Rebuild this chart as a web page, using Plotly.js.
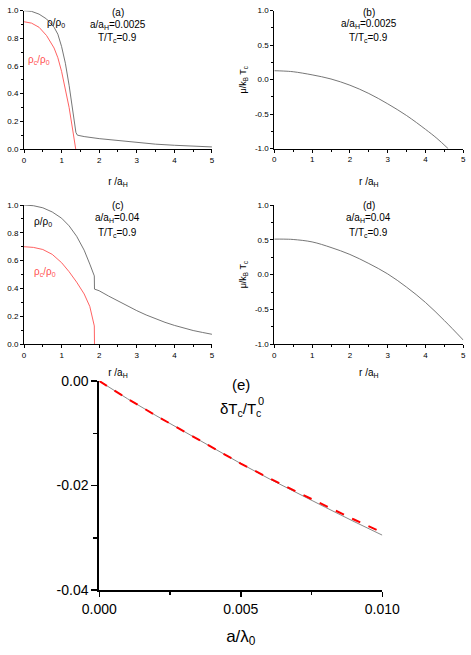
<!DOCTYPE html>
<html>
<head>
<meta charset="utf-8">
<script src="https://cdn.plot.ly/plotly-3.0.1.min.js"></script>
<style>
  html, body { margin: 0; padding: 0; background: white; }
  #grafic { width: 471px; height: 655px; }
</style>
</head>
<body>
<div id="grafic"></div>
<script>
// DADES LLEGIDES DEL GRAFIC

// (a) a/aH = 0.0025
var rA = [0, 0.2, 0.4, 0.6, 0.8, 0.9, 1.0, 1.1, 1.2, 1.3, 1.38, 1.42, 1.6, 2.0, 2.5, 3.0, 3.5, 4.0, 4.5, 5.0];
var rhoA = [1.0, 0.995, 0.975, 0.94, 0.88, 0.83, 0.74, 0.62, 0.46, 0.28, 0.12, 0.10, 0.09, 0.075, 0.06, 0.045, 0.035, 0.027, 0.02, 0.015];
var rcA = [0, 0.2, 0.4, 0.6, 0.8, 0.9, 1.0, 1.1, 1.2, 1.3, 1.37, 1.375];
var rhocA = [0.92, 0.91, 0.88, 0.82, 0.73, 0.66, 0.56, 0.44, 0.30, 0.13, 0.02, 0.0];

// (b)
var rB = [0, 0.25, 0.5, 1.0, 1.5, 2.0, 2.5, 3.0, 3.5, 4.0, 4.3, 4.6];
var muB = [0.13, 0.125, 0.115, 0.07, 0.01, -0.08, -0.20, -0.35, -0.52, -0.72, -0.85, -1.0];

// (c) a/aH = 0.04
var rC = [0, 0.25, 0.5, 0.75, 1.0, 1.2, 1.4, 1.6, 1.75, 1.87, 1.875, 2.0, 2.25, 2.5, 2.75, 3.0, 3.25, 3.5, 3.75, 4.0, 4.25, 4.5, 4.75, 5.0];
var rhoC = [1.0, 0.995, 0.98, 0.95, 0.905, 0.85, 0.775, 0.675, 0.575, 0.49, 0.395, 0.383, 0.345, 0.308, 0.273, 0.240, 0.209, 0.181, 0.156, 0.134, 0.114, 0.097, 0.083, 0.07];
var rcC = [0, 0.25, 0.5, 0.75, 1.0, 1.2, 1.4, 1.6, 1.75, 1.87, 1.875];
var rhocC = [0.70, 0.695, 0.68, 0.645, 0.585, 0.52, 0.445, 0.36, 0.27, 0.13, 0.0];

// (d)
var rD = [0, 0.25, 0.5, 1.0, 1.5, 2.0, 2.5, 3.0, 3.5, 4.0, 4.5, 5.0];
var muD = [0.51, 0.51, 0.505, 0.47, 0.39, 0.29, 0.16, 0.01, -0.18, -0.40, -0.66, -0.94];

// (e) deltaTc/Tc0 vs a/lambda0
var aLam = [0, 0.001, 0.002, 0.003, 0.004, 0.005, 0.006, 0.007, 0.008, 0.009, 0.010];
var dTcNum = [0, -0.0034, -0.0066, -0.0097, -0.0128, -0.0158, -0.0187, -0.0215, -0.0242, -0.0269, -0.0295];
var dTcApx = [0, -0.0034, -0.0066, -0.0097, -0.0128, -0.0158, -0.0186, -0.0213, -0.0239, -0.0265, -0.0290];

// ETIQUETES DELS EIXOS
var muTicks = [-1, -0.5, 0, 0.5, 1];
var muText = ["-1.0", "-0.5", "0.0", "0.5", "1.0"];
var eYTicks = [-0.04, -0.02, 0];
var eYText = ["-0.04", "-0.02", "0.00"];
var eXTicks = [0, 0.005, 0.010];
var eXText = ["0.000", "0.005", "0.010"];

var FONT = "Liberation Sans, Arial, sans-serif";
var GRIS = "#666666";
var VERMELL = "rgb(255,80,80)";

// eix petit (panells a-d)
function eixPetit(dom, rang, extra) {
    var eix = {
        domain: dom, range: rang, showgrid: false, zeroline: false,
        showline: true, linecolor: "black", linewidth: 1,
        ticks: "outside", ticklen: 3, tickwidth: 1, tickcolor: "black",
        tickfont: {family: FONT, size: 8, color: "black"},
        fixedrange: true
    };
    for (var k in extra) eix[k] = extra[k];
    return eix;
}

function titolR(st) {
    return {text: "r /a<sub>H</sub>", font: {family: FONT, size: 10, color: "black"}, standoff: st};
}
var titolMu = {text: "μ/k<sub>B</sub> T<sub>c</sub>", font: {family: FONT, size: 9, color: "black"}, standoff: 6};
var minorX = {ticks: "outside", ticklen: 2, dtick: 0.5, tick0: 0, tickcolor: "black"};
var minorRho = {ticks: "outside", ticklen: 2, dtick: 0.1, tick0: 0, tickcolor: "black"};
var minorMu = {ticks: "outside", ticklen: 2, dtick: 0.25, tick0: 0, tickcolor: "black"};

var layout = {
    width: 471, height: 655,
    margin: {l: 0, r: 0, t: 0, b: 0},
    paper_bgcolor: "white", plot_bgcolor: "white",
    showlegend: false,
    font: {family: FONT, color: "black"},

    xaxis: eixPetit([0.051, 0.450], [0, 5], {anchor: "y", dtick: 1, tick0: 0, minor: minorX, title: titolR(14)}),
    yaxis: eixPetit([0.7725, 0.9837], [0, 1], {anchor: "x", dtick: 0.2, tick0: 0, tickformat: ".1f", minor: minorRho}),

    xaxis2: eixPetit([0.5824, 0.9837], [0, 5], {anchor: "y2", dtick: 1, tick0: 0, minor: minorX, title: titolR(14)}),
    yaxis2: eixPetit([0.773, 0.9837], [-1, 1], {anchor: "x2", tickmode: "array", tickvals: muTicks, ticktext: muText,
        minor: minorMu, title: titolMu}),

    xaxis3: eixPetit([0.051, 0.450], [0, 5], {anchor: "y3", dtick: 1, tick0: 0, minor: minorX, title: titolR(10)}),
    yaxis3: eixPetit([0.4748, 0.6870], [0, 1], {anchor: "x3", dtick: 0.2, tick0: 0, tickformat: ".1f", minor: minorRho}),

    xaxis4: eixPetit([0.5824, 0.9837], [0, 5], {anchor: "y4", dtick: 1, tick0: 0, minor: minorX, title: titolR(10)}),
    yaxis4: eixPetit([0.4744, 0.6870], [-1, 1], {anchor: "x4", tickmode: "array", tickvals: muTicks, ticktext: muText,
        minor: minorMu, title: titolMu}),

    xaxis5: {
        domain: [0.2108, 0.8117], range: [0, 0.010], anchor: "y5",
        showgrid: false, zeroline: false, showline: true, linecolor: "black", linewidth: 2,
        ticks: "outside", ticklen: 5, tickwidth: 1.5, tickcolor: "black",
        tickmode: "array", tickvals: eXTicks, ticktext: eXText,
        minor: {ticks: "outside", ticklen: 3, tickwidth: 1.5, dtick: 0.0025, tick0: 0, tickcolor: "black"},
        tickfont: {family: FONT, size: 14, color: "black"},
        title: {text: "a/λ<sub>0</sub>", font: {family: FONT, size: 17, color: "black"}, standoff: 14},
        fixedrange: true
    },
    yaxis5: {
        domain: [0.0992, 0.4183], range: [-0.04, 0], anchor: "x5",
        showgrid: false, zeroline: false, showline: true, linecolor: "black", linewidth: 2,
        ticks: "outside", ticklen: 6, tickwidth: 1.5, tickcolor: "black",
        tickmode: "array", tickvals: eYTicks, ticktext: eYText,
        minor: {ticks: "outside", ticklen: 4, tickwidth: 1.5, dtick: 0.01, tick0: 0, tickcolor: "black"},
        tickfont: {family: FONT, size: 14, color: "black"},
        fixedrange: true
    },

    annotations: []
};

// TEXTOS DINS DELS PANELLS
function txt(xr, yr, x, y, text, color, size, xanc) {
    layout.annotations.push({
        xref: xr, yref: yr, x: x, y: y, text: text, showarrow: false,
        font: {family: FONT, size: size || 10, color: color || "black"},
        xanchor: xanc || "center", yanchor: "middle"
    });
}
txt("x domain", "y domain", 0.5, 0.99, "(a)");
txt("x domain", "y domain", 0.5, 0.90, "a/a<sub>H</sub>=0.0025");
txt("x domain", "y domain", 0.5, 0.80, "T/T<sub>c</sub>=0.9");
txt("x domain", "y domain", 0.17, 0.91, "ρ/ρ<sub>0</sub>");
txt("x domain", "y domain", 0.08, 0.64, "ρ<sub>c</sub>/ρ<sub>0</sub>", VERMELL);

txt("x2 domain", "y2 domain", 0.5, 0.99, "(b)");
txt("x2 domain", "y2 domain", 0.5, 0.90, "a/a<sub>H</sub>=0.0025");
txt("x2 domain", "y2 domain", 0.5, 0.80, "T/T<sub>c</sub>=0.9");

txt("x3 domain", "y3 domain", 0.5, 1.0, "(c)");
txt("x3 domain", "y3 domain", 0.5, 0.91, "a/a<sub>H</sub>=0.04");
txt("x3 domain", "y3 domain", 0.5, 0.80, "T/T<sub>c</sub>=0.9");
txt("x3 domain", "y3 domain", 0.1, 0.88, "ρ/ρ<sub>0</sub>");
txt("x3 domain", "y3 domain", 0.11, 0.52, "ρ<sub>c</sub>/ρ<sub>0</sub>", VERMELL);

txt("x4 domain", "y4 domain", 0.5, 1.0, "(d)");
txt("x4 domain", "y4 domain", 0.5, 0.91, "a/a<sub>H</sub>=0.04");
txt("x4 domain", "y4 domain", 0.5, 0.80, "T/T<sub>c</sub>=0.9");

txt("paper", "paper", 241 / 471, 1 - 384 / 655, "(e)", "black", 15);
// el superindex 0 va apilat sobre el subindex c
txt("paper", "paper", 218 / 471, 1 - 409 / 655, "δT<sub>c</sub>/T<sub>c</sub>", "black", 15, "left");
txt("paper", "paper", 256 / 471, 1 - 401 / 655, "0", "black", 11, "left");

// CORBES
var linia = {color: GRIS, width: 0.9};
var liniaV = {color: VERMELL, width: 0.9};
var dades = [
    {x: rA, y: rhoA, xaxis: "x", yaxis: "y", mode: "lines", type: "scatter", line: linia},
    {x: rcA, y: rhocA, xaxis: "x", yaxis: "y", mode: "lines", type: "scatter", line: liniaV},
    {x: rB, y: muB, xaxis: "x2", yaxis: "y2", mode: "lines", type: "scatter", line: {color: GRIS, width: 0.9, shape: "spline"}},
    {x: rC, y: rhoC, xaxis: "x3", yaxis: "y3", mode: "lines", type: "scatter", line: linia},
    {x: rcC, y: rhocC, xaxis: "x3", yaxis: "y3", mode: "lines", type: "scatter", line: liniaV},
    {x: rD, y: muD, xaxis: "x4", yaxis: "y4", mode: "lines", type: "scatter", line: {color: GRIS, width: 0.9, shape: "spline"}},
    {x: aLam, y: dTcNum, xaxis: "x5", yaxis: "y5", mode: "lines", type: "scatter", line: {color: "#888888", width: 1}},
    {x: aLam, y: dTcApx, xaxis: "x5", yaxis: "y5", mode: "lines", type: "scatter", line: {color: "red", width: 2, dash: "dash"}}
];

Plotly.newPlot("grafic", dades, layout, {displayModeBar: false, staticPlot: true});
</script>
</body>
</html>
